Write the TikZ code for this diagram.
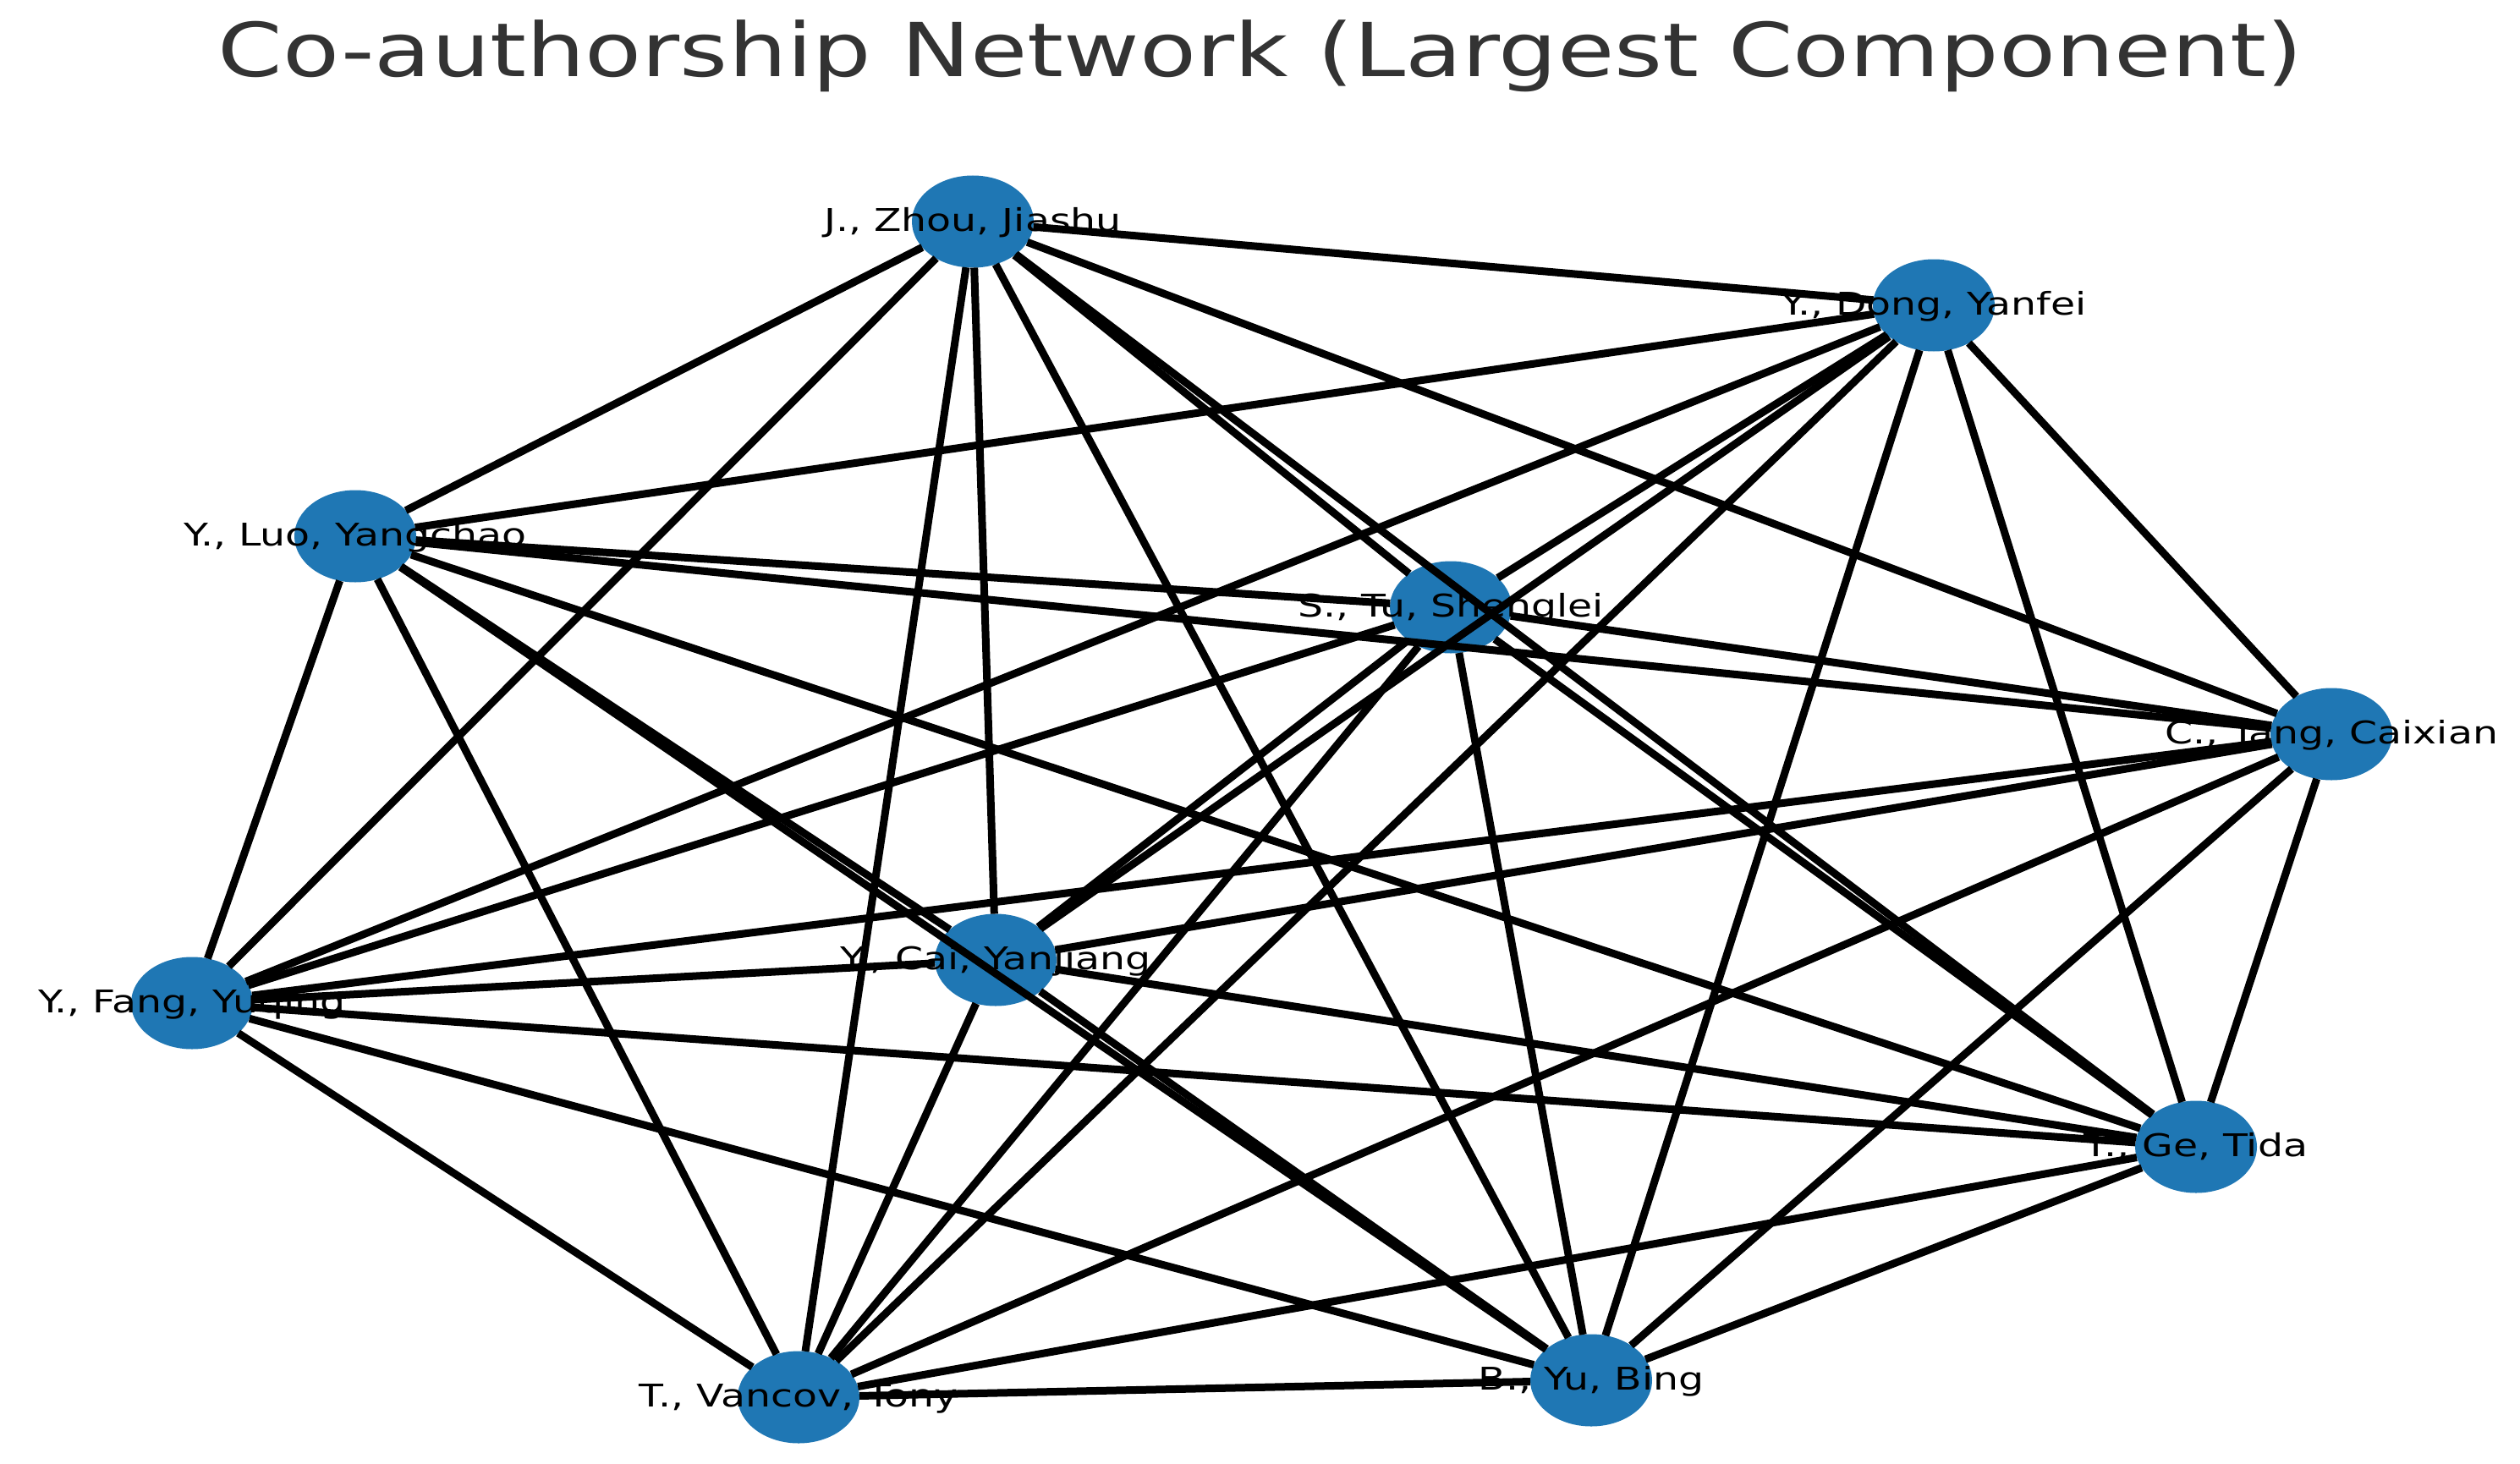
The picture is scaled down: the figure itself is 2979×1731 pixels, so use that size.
\documentclass[tikz,border=0pt]{standalone}
\usepackage{fontspec}
\setmainfont{DejaVu Sans}
\newfontfamily\labfont[FakeStretch=1.28]{DejaVu Sans}
\newfontfamily\titfont[FakeStretch=1.245]{DejaVu Sans}
\usetikzlibrary{shapes.geometric}
\definecolor{nodeblue}{HTML}{1F77B4}
\definecolor{titlegray}{HTML}{333333}
\tikzset{
  person/.style={ellipse, fill=nodeblue, draw=none, minimum width=144pt, minimum height=109pt, inner sep=0pt, outer sep=0pt},
  lab/.style={anchor=base, inner sep=0pt, text=black, font=\labfont\fontsize{37}{40}\selectfont},
  edge/.style={draw=black, line width=9pt},
  ttl/.style={anchor=base, inner sep=0pt, text=titlegray, font=\titfont\fontsize{88}{96}\selectfont}
}
\begin{document}
\begin{tikzpicture}[x=1pt,y=-1pt]
\fill[white] (0,0) rectangle (2979,1731);
\useasboundingbox (0,0) rectangle (2979,1731);
\node[ttl] (title) at (1490,91) {Co-authorship Network (Largest Component)};
% nodes
\node[person] (zhou)   at (1150,262)  {};
\node[person] (dong)   at (2286,361)  {};
\node[person] (luo)    at (420,634)   {};
\node[person] (tu)     at (1715,718)  {};
\node[person] (tang)   at (2756,868)  {};
\node[person] (cai)    at (1177,1135) {};
\node[person] (fang)   at (227,1186)  {};
\node[person] (ge)     at (2596,1356) {};
\node[person] (vancov) at (944,1652)  {};
\node[person] (yu)     at (1881,1632) {};
% labels
\node[lab] (t-zhou)   at (1150,273)  {J., Zhou, Jiashu};
\node[lab] (t-dong)   at (2286,372)  {Y., Dong, Yanfei};
\node[lab] (t-luo)    at (420,645)   {Y., Luo, Yangchao};
\node[lab] (t-tu)     at (1715,729)  {S., Tu, Shenglei};
\node[lab] (t-tang)   at (2756,879)  {C., Tang, Caixian};
\node[lab] (t-cai)    at (1177,1146) {Y., Cai, Yanjiang};
\node[lab] (t-fang)   at (227,1197)  {Y., Fang, Yuqing};
\node[lab] (t-ge)     at (2596,1367) {T., Ge, Tida};
\node[lab] (t-vancov) at (944,1663)  {T., Vancov, Tony};
\node[lab] (t-yu)     at (1881,1643) {B., Yu, Bing};
% edges (stop at node borders, drawn over the labels)
\foreach \a/\b in {zhou/dong,zhou/luo,zhou/tu,zhou/tang,zhou/cai,zhou/fang,zhou/ge,zhou/vancov,zhou/yu,
  dong/luo,dong/tu,dong/tang,dong/cai,dong/fang,dong/ge,dong/vancov,dong/yu,
  luo/tu,luo/tang,luo/cai,luo/fang,luo/ge,luo/vancov,luo/yu,
  tu/tang,tu/cai,tu/fang,tu/ge,tu/vancov,tu/yu,
  tang/cai,tang/fang,tang/ge,tang/vancov,tang/yu,
  cai/fang,cai/ge,cai/vancov,cai/yu,
  fang/ge,fang/vancov,fang/yu,
  ge/vancov,ge/yu,
  vancov/yu}
  \draw[edge] (\a) -- (\b);
\end{tikzpicture}
\end{document}
